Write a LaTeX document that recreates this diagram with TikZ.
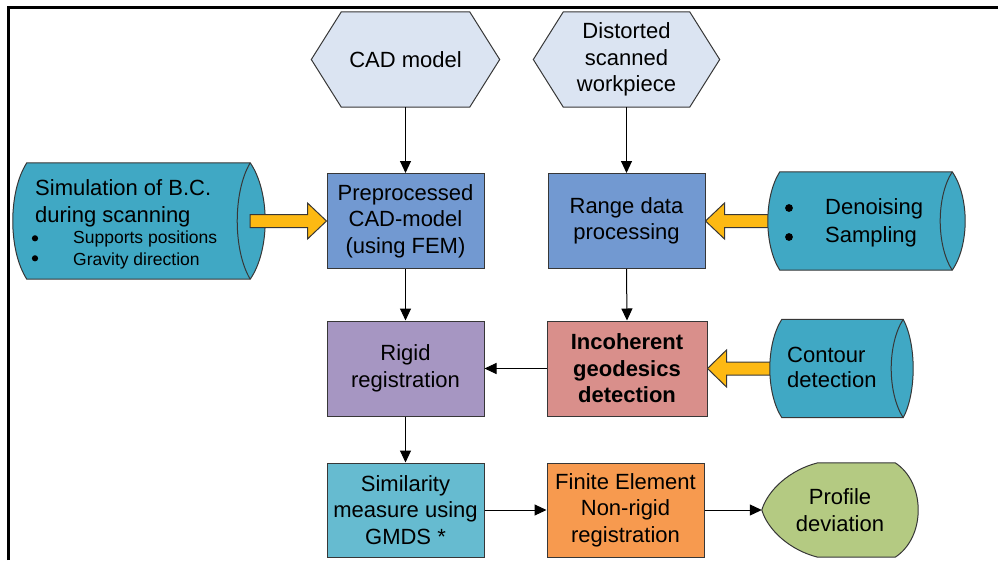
\documentclass[tikz,border=0pt]{standalone}
\usepackage{fontspec}
\setmainfont{Liberation Sans}
\usetikzlibrary{arrows.meta,calc}
\pgfdeclarelayer{background}
\pgfsetlayers{background,main}

\definecolor{hexfill}{RGB}{219,228,242}
\definecolor{procblue}{RGB}{114,153,209}
\definecolor{rigidpurple}{RGB}{166,150,194}
\definecolor{incsalmon}{RGB}{217,143,139}
\definecolor{simcyan}{RGB}{102,187,208}
\definecolor{feorange}{RGB}{247,154,79}
\definecolor{profgreen}{RGB}{180,202,130}
\definecolor{canteal}{RGB}{64,168,196}
\definecolor{feedyellow}{RGB}{253,185,19}
\definecolor{edgegrey}{RGB}{55,55,55}

\newcommand\mainsize{\fontsize{22}{26.5}\selectfont}
\newcommand\bulletsize{\fontsize{17.5}{21}\selectfont}

\begin{document}
\begin{tikzpicture}[x=1pt,y=-1pt,
  every node/.style={font=\mainsize, align=center, inner sep=0pt},
  box/.style={draw=edgegrey, line width=1pt, minimum width=157pt, minimum height=95pt},
  flow/.style={draw=black, line width=1pt, -{Triangle[length=12pt,width=11pt]}},
  feed/.style={draw=edgegrey, line width=1pt, fill=feedyellow, line join=miter},
  canshape/.style={draw=edgegrey, line width=1pt, fill=canteal},
  canrim/.style={draw=edgegrey, line width=1pt},
  hexshape/.style={draw=edgegrey, line width=1pt, fill=hexfill},
  profshape/.style={draw=edgegrey, line width=1pt, fill=profgreen},
  small/.style={font=\bulletsize},
  listdot/.style={fill=black}
]
\useasboundingbox (0,0) rectangle (998,560);

% outer frame
\draw[line width=3pt] (8.7,560) -- (8.7,7.8) -- (998,7.8);

% inputs
\node[minimum width=188pt, minimum height=95pt] (cad) at (405.5,59.5) {CAD model};
\node[minimum width=186pt, minimum height=95pt] (scan) at (626.5,59.5) {Distorted\\scanned\\workpiece};

% process boxes
\node[box, fill=procblue] (pre) at (405.5,221) {Preprocessed\\CAD-model\\(using FEM)};
\node[box, fill=procblue] (rng) at (626.5,221) {Range data\\processing};
\node[box, fill=rigidpurple] (rig) at (405.5,368.5) {Rigid\\registration};
\node[box, fill=incsalmon, minimum width=160pt, font=\mainsize\bfseries] (inc) at (627,368.5) {Incoherent\\geodesics\\detection};
\node[box, fill=simcyan, minimum height=94pt] (sim) at (405.5,510) {Similarity\\measure using\\GMDS *};
\node[box, fill=feorange, minimum height=94pt] (fem) at (625.5,510) {Finite Element\\Non-rigid\\registration};
\node[minimum width=156pt, minimum height=94pt] (prof) at (840,510) {Profile\\deviation};

% stored-data frames
\node[minimum width=223pt, minimum height=116pt] (simcan) at (138.5,221) {};
\node[minimum width=172pt, minimum height=98pt] (dencan) at (866,221) {};
\node[minimum width=121pt, minimum height=98pt] (concan) at (842.5,368.5) {};

% texts inside the stored-data frames
\node[anchor=base west] (simt1) at (35,195) {Simulation of B.C.};
\node[anchor=base west] (simt2) at (35,222) {during scanning};
\node[small, anchor=base west] (simt3) at (73,243) {Supports positions};
\node[small, anchor=base west] (simt4) at (73,265) {Gravity direction};

\node[anchor=base west] (dent1) at (825,214) {Denoising};
\node[anchor=base west] (dent2) at (825,242) {Sampling};

\node[anchor=base west] (cont1) at (787,362) {Contour};
\node[anchor=base west] (cont2) at (787,387) {detection};

\begin{pgfonlayer}{background}
  % hexagonal inputs
  \draw[hexshape] (cad.west) -- ([xshift=30pt]cad.north west) -- ([xshift=-30pt]cad.north east)
    -- (cad.east) -- ([xshift=-30pt]cad.south east) -- ([xshift=30pt]cad.south west) -- cycle;
  \draw[hexshape] (scan.west) -- ([xshift=30pt]scan.north west) -- ([xshift=-30pt]scan.north east)
    -- (scan.east) -- ([xshift=-30pt]scan.south east) -- ([xshift=30pt]scan.south west) -- cycle;

  % left stored-data frame and its feed arrow
  \draw[canshape] (simcan.north east) -- (simcan.north west)
    .. controls +(-18.7,29) and +(-18.7,-29) .. (simcan.south west)
    -- (simcan.south east)
    .. controls +(20,-29) and +(20,29) .. (simcan.north east) -- cycle;
  \draw[canrim] (simcan.north east) .. controls +(-17.3,29) and +(-17.3,-29) .. (simcan.south east);
  \draw[feed] (pre.west) -- ++(-19,-18) -- ++(0,11.5) -- ($(simcan.east)+(0,-6.5)$)
    -- ++(0,13) -- ($(pre.west)+(-19,6.5)$) -- ++(0,11.5) -- cycle;

  % right feed arrows, under their frames
  \draw[feed] (rng.east) -- ++(19,-18) -- ++(0,11.5) -- ($(dencan.west)+(0,-6.5)$)
    -- ++(0,13) -- ($(rng.east)+(19,6.5)$) -- ++(0,11.5) -- cycle;
  \draw[feed] (inc.east) -- ++(19,-18.5) -- ++(0,12) -- ($(concan.west)+(0,-6.5)$)
    -- ++(0,13) -- ($(inc.east)+(19,6.5)$) -- ++(0,12) -- cycle;

  \draw[canshape] (dencan.north east) -- (dencan.north west)
    .. controls +(-16,25) and +(-16,-25) .. (dencan.south west)
    -- (dencan.south east)
    .. controls +(17.3,-25) and +(17.3,25) .. (dencan.north east) -- cycle;
  \draw[canrim] (dencan.north east) .. controls +(-16,25) and +(-16,-25) .. (dencan.south east);

  \draw[canshape] (concan.north east) -- (concan.north west)
    .. controls +(-16,25) and +(-16,-25) .. (concan.south west)
    -- (concan.south east)
    .. controls +(13.3,-25) and +(13.3,25) .. (concan.north east) -- cycle;
  \draw[canrim] (concan.north east) .. controls +(-16,25) and +(-16,-25) .. (concan.south east);

  % display-shaped output
  \draw[profshape] ([xshift=56pt]prof.north west) -- ([xshift=-23pt]prof.north east)
    .. controls +(30.7,20) and +(30.7,-20) .. ([xshift=-23pt]prof.south east)
    -- ([xshift=56pt]prof.south west)
    .. controls +(-28,-7) and +(6,20) .. (prof.west)
    .. controls +(6,-20) and +(-28,7) .. ([xshift=56pt]prof.north west) -- cycle;
\end{pgfonlayer}

% list bullets
\fill[listdot] (35,238.3) circle (3.1);
\fill[listdot] (35,258.3) circle (3.1);
\fill[listdot] (789,208) circle (3.9);
\fill[listdot] (789,237) circle (3.9);

% process flow
\draw[flow] (cad.south) -- (pre.north);
\draw[flow] (scan.south) -- (rng.north);
\draw[flow] (pre.south) -- (rig.north);
\draw[flow] (rng.south) -- (inc.north);
\draw[flow] (inc.west) -- (rig.east);
\draw[flow] (rig.south) -- (sim.north);
\draw[flow] (sim.east) -- (fem.west);
\draw[flow] (fem.east) -- (prof.west);
\end{tikzpicture}
\end{document}
